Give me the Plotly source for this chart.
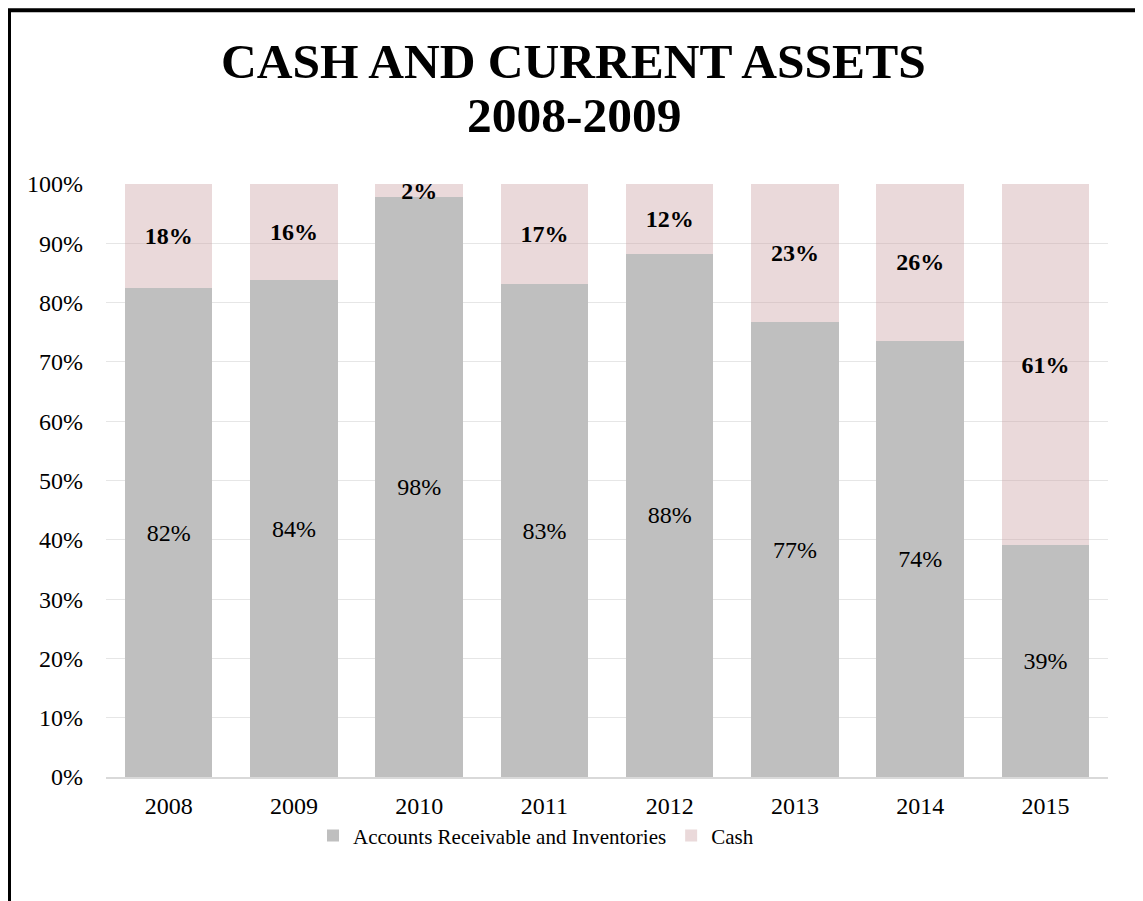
import plotly.graph_objects as go

years = ["2008", "2009", "2010", "2011", "2012", "2013", "2014", "2015"]
ar_values = [82.4, 83.8, 97.8, 83.1, 88.2, 76.7, 73.6, 39.1]
cash_values = [17.6, 16.2, 2.2, 16.9, 11.8, 23.3, 26.4, 60.9]
y_ticks = [0, 10, 20, 30, 40, 50, 60, 70, 80, 90, 100]
y_tick_text = [f"{v}%" for v in y_ticks]

FONT = "Liberation Serif"
OFF = 8  # page body margin
W, H = 1143 - OFF, 901 - OFF
L, R, T, B = 106 - OFF, 35, 183.5 - OFF, 124
plot_h = H - T - B
plot_w = W - L - R

def py(screen_y):
    return (H - B - (screen_y - OFF)) / plot_h

def px(screen_x):
    return ((screen_x - OFF) - L) / plot_w

lab_font = dict(family=FONT, size=24, color="#000000")

fig = go.Figure()
fig.add_trace(go.Bar(
    x=years, y=ar_values, name="Accounts Receivable and Inventories",
    marker=dict(color="#BFBFBF", line=dict(width=0)),
    texttemplate="%{y:.0f}%", textposition="inside", insidetextanchor="middle",
    textangle=0, constraintext="none", cliponaxis=False,
    textfont=lab_font, insidetextfont=lab_font,
))
fig.add_trace(go.Bar(
    x=years, y=cash_values, name="Cash",
    marker=dict(color="rgba(202,160,162,0.4)", line=dict(width=0)),
    texttemplate="<b>%{y:.0f}%</b>", textposition="inside", insidetextanchor="middle",
    textangle=0, constraintext="none", cliponaxis=False,
    textfont=lab_font, insidetextfont=lab_font,
))

fig.update_layout(
    width=W, height=H,
    barmode="stack", bargap=0.3,
    paper_bgcolor="white", plot_bgcolor="white",
    margin=dict(l=L, r=R, t=T, b=B, autoexpand=False),
    font=dict(family=FONT, size=23, color="#000000"),
    showlegend=True,
    legend=dict(orientation="h", x=px(536), xanchor="center",
                y=py(836), yanchor="middle", bgcolor="rgba(0,0,0,0)",
                font=dict(family=FONT, size=21, color="#000000"),
                itemwidth=30, traceorder="normal"),
    xaxis=dict(showgrid=False, showline=True, linecolor="#D9D9D9", linewidth=1.5,
               ticks="", ticklabelstandoff=6,
               tickfont=dict(family=FONT, size=24, color="#000000")),
    yaxis=dict(range=[0, 100], tickmode="array", tickvals=y_ticks, ticktext=y_tick_text,
               showgrid=True, gridcolor="#E6E6E6", gridwidth=1,
               zeroline=False, showline=False, ticks="", ticklabelstandoff=22,
               tickfont=dict(family=FONT, size=24, color="#000000")),
    shapes=[dict(type="rect", xref="paper", yref="paper",
                 x0=px(9), x1=px(1140.5),
                 y0=py(930), y1=py(9.5),
                 line=dict(color="#000000", width=4), fillcolor="rgba(0,0,0,0)",
                 layer="above")],
    annotations=[
        dict(text="<b>CASH AND CURRENT ASSETS</b>", xref="paper", yref="paper",
             x=px(573.5), y=py(61), xanchor="center", yanchor="middle",
             showarrow=False, font=dict(family=FONT, size=49.5, color="#000000")),
        dict(text="<b>2008-2009</b>", xref="paper", yref="paper",
             x=px(573.5), y=py(114.5), xanchor="center", yanchor="middle",
             showarrow=False, font=dict(family=FONT, size=49.5, color="#000000")),
    ],
)

fig.write_html("out.html")
